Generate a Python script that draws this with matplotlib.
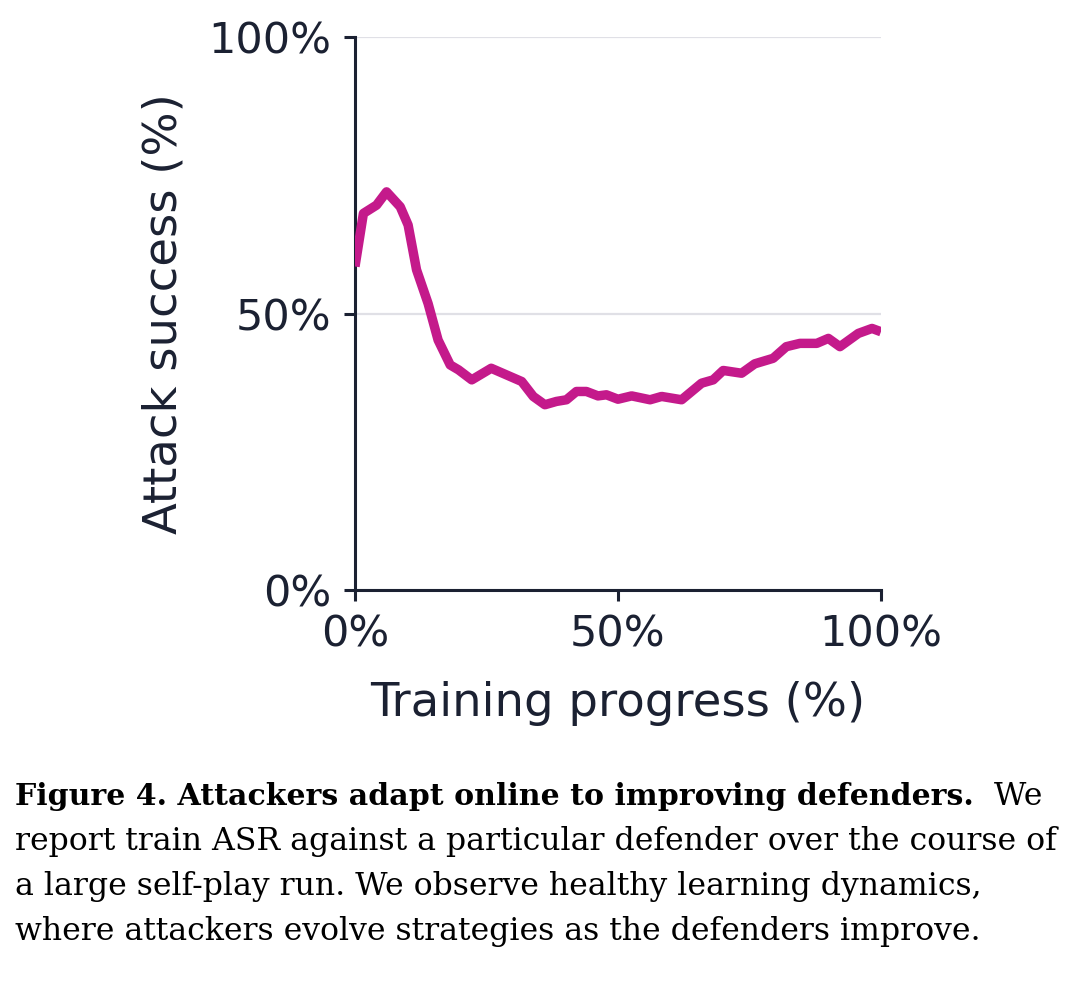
import matplotlib
matplotlib.use("Agg")
import matplotlib.pyplot as plt

# values (percent)
progress = [0, 1.6, 4.1, 6.0, 8.6, 10.1, 11.7, 13.9, 15.8, 18.1, 19.7, 22.2,
            25.9, 28.8, 31.7, 33.9, 36.1, 38.3, 40.2, 42.1, 44.0, 46.2, 47.8,
            50.0, 52.6, 56.1, 58.3, 62.1, 65.9, 68.1, 70.0, 73.5, 76.0, 79.5,
            82.0, 84.6, 87.8, 90.0, 92.2, 95.7, 98.3, 100]
asr = [58.5, 68.1, 69.6, 72.0, 69.3, 66.0, 57.9, 51.8, 45.2, 40.7, 39.8, 38.0,
       40.1, 38.9, 37.7, 35.0, 33.5, 34.1, 34.4, 35.9, 35.9, 35.1, 35.3,
       34.5, 35.1, 34.4, 35.0, 34.4, 37.4, 38.0, 39.7, 39.2, 40.9, 41.9,
       44.0, 44.6, 44.6, 45.5, 44.0, 46.4, 47.3, 46.7]
ticks = [0, 50, 100]
tick_labels = ["0%", "50%", "100%"]

caption_bold = "Figure 4. Attackers adapt online to improving defenders."
caption_lines = ["  We",
                 "report train ASR against a particular defender over the course of",
                 "a large self-play run. We observe healthy learning dynamics,",
                 "where attackers evolve strategies as the defenders improve."]

ink = "#1b2132"
magenta = "#C41A8B"

fig = plt.figure(figsize=(10.8, 9.84), dpi=100)
ax = fig.add_axes([0.3287, 0.4004, 0.487, 0.562])

ax.plot(progress, asr, color=magenta, lw=6.8, solid_joinstyle="round",
        solid_capstyle="butt", zorder=3)
ax.set_xlim(0, 100)
ax.set_ylim(0, 100)
ax.set_xticks(ticks)
ax.set_xticklabels(tick_labels)
ax.set_yticks(ticks)
ax.set_yticklabels(tick_labels)
ax.grid(axis="y", color="#e0e0e6", lw=1.6, zorder=0)

for s in ["top", "right"]:
    ax.spines[s].set_visible(False)
for s in ["left", "bottom"]:
    ax.spines[s].set_color(ink)
    ax.spines[s].set_linewidth(2.2)
ax.tick_params(colors=ink, labelsize=31, length=8, width=2.2, pad=9)

ax.set_xlabel("Training progress (%)", fontsize=33.5, color=ink, labelpad=18)
ax.set_ylabel("Attack success (%)", fontsize=33.5, color=ink, labelpad=16)

# caption below the chart
cap_font = "DejaVu Serif"
cap_size = 22.7
y0 = 0.182
dy = 0.0457
t = fig.text(0.014, y0, caption_bold, fontsize=21.6, family=cap_font,
             weight="bold", color="black", va="baseline")
fig.canvas.draw()
bb = t.get_window_extent().transformed(fig.transFigure.inverted())
fig.text(bb.x1, y0, caption_lines[0], fontsize=cap_size, family=cap_font,
         color="black", va="baseline")
for i, line in enumerate(caption_lines[1:], start=1):
    fig.text(0.014, y0 - i * dy, line, fontsize=cap_size, family=cap_font,
             color="black", va="baseline")

fig.savefig("out.png", dpi=100)
